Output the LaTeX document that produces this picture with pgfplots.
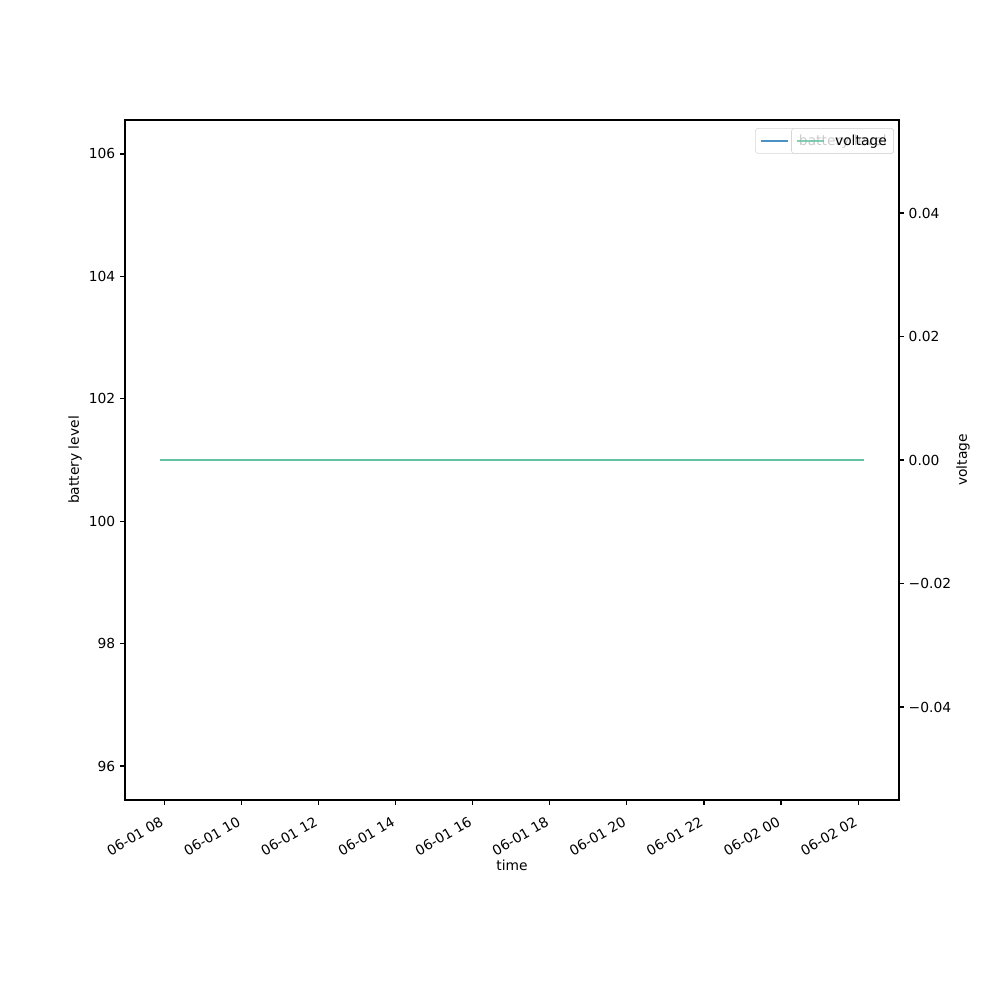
\documentclass[border=0pt]{standalone}
\usepackage{fontspec}
\setmainfont{DejaVu Sans}
\usepackage{pgfplots}
\pgfplotsset{compat=1.18}
\definecolor{tabblue}{HTML}{1F77B4}
\definecolor{teal2}{HTML}{66C2A5}
\pgfplotsset{
  common/.style={
    at={(1.25in,2.0in)}, anchor=south west,
    width=7.74in, height=6.8in, scale only axis,
    xmin=6.981, xmax=27.06,
    tick align=outside, major tick length=3.5pt,
    tick style={black, line width=0.8pt},
    axis line style={line width=0.8pt},
    scaled y ticks=false, scaled x ticks=false,
    legend cell align=left,
    legend style={at={(0.9935,0.988)}, anchor=north east,
      draw=black!20, fill=white, fill opacity=0.8, draw opacity=0.8,
      text opacity=1, rounded corners=2pt, inner xsep=3pt, inner ysep=2.5pt,
      column sep=5pt, font=\normalsize},
    legend image code/.code={\draw[#1, line width=1.5pt] (0pt,0pt) -- (20pt,0pt);},
  }
}
\begin{document}
\begin{tikzpicture}
\useasboundingbox (0,0) rectangle (10in,10in);
\begin{axis}[common,
  ymin=95.445, ymax=106.555,
  xtick={8,10,12,14,16,18,20,22,24,26},
  xticklabels={06-01 08,06-01 10,06-01 12,06-01 14,06-01 16,06-01 18,06-01 20,06-01 22,06-02 00,06-02 02},
  xticklabel style={rotate=30, anchor=north east, inner sep=1pt, xshift=-6pt, yshift=-4pt},
  xtick pos=bottom, ytick pos=left,
  ytick={96,98,100,102,104,106},
  yticklabels={96,98,100,102,104,106},
  xlabel={time}, ylabel={battery level},
  xlabel style={at={(axis description cs:0.5,-0.0956)}, anchor=center},
  ylabel style={at={(axis description cs:-0.0646,0.5)}, anchor=center, rotate=0},
]
\addplot[tabblue, line width=1.5pt] coordinates {(7.894,101) (12,101) (17,101) (22,101) (26.147,101)};
\addlegendentry{battery level}
\end{axis}
\begin{axis}[common,
  ymin=-0.05506, ymax=0.05506,
  axis x line=none, axis y line*=right,
  ytick={-0.04,-0.02,0,0.02,0.04},
  yticklabels={−0.04,−0.02,0.00,0.02,0.04},
  ylabel={voltage},
  ylabel style={at={(axis description cs:1.0827,0.5)}, anchor=center, rotate=0},
]
\addplot[teal2, line width=1.5pt] coordinates {(7.894,0) (12,0) (17,0) (22,0) (26.147,0)};
\addlegendentry{voltage}
\end{axis}
\end{tikzpicture}
\end{document}
